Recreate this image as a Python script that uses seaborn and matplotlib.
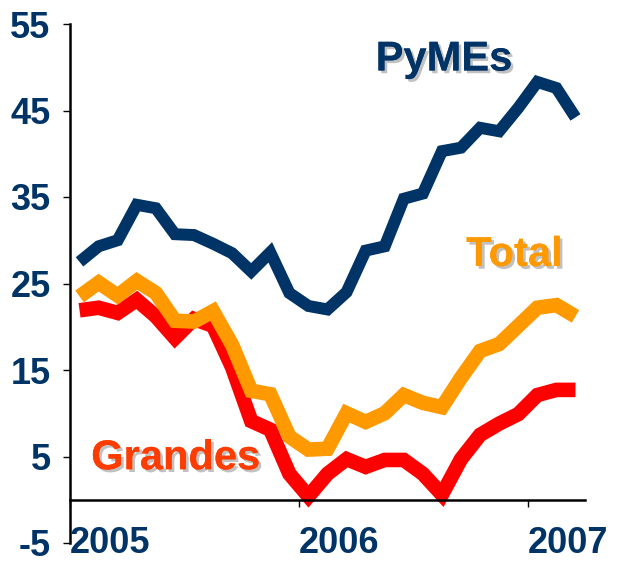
import matplotlib
matplotlib.use("Agg")
import matplotlib.pyplot as plt
import matplotlib.patheffects as pe
import seaborn as sns
import pandas as pd
import numpy as np

# Monthly series, Jan 2005 .. Mar 2007
months = [i + 0.5 for i in range(27)]
pymes = [27.5, 29.3, 30.0, 34.1, 33.7, 30.7, 30.6, 29.6, 28.5, 26.4, 28.6, 23.9, 22.4, 22.0,
         24.0, 28.8, 29.3, 34.8, 35.4, 40.3, 40.7, 43.0, 42.6, 45.3, 48.3, 47.6, 44.2]
total = [23.5, 25.1, 23.6, 25.3, 23.9, 20.7, 20.6, 21.8, 17.9, 12.6, 12.2, 7.3, 5.8, 5.9,
         10.0, 9.0, 10.0, 12.1, 11.2, 10.7, 14.1, 17.2, 18.0, 20.1, 22.2, 22.5, 21.2]
grandes = [21.9, 22.2, 21.6, 23.1, 21.2, 18.7, 20.9, 20.1, 15.3, 9.1, 8.1, 3.0, 0.4, 3.0,
           4.7, 3.8, 4.6, 4.6, 3.0, 0.6, 4.7, 7.5, 8.8, 9.9, 12.1, 12.7, 12.7]
year_ticks = [0, 12, 24]
year_labels = ["2005", "2006", "2007"]
y_ticks = [-5, 5, 15, 25, 35, 45, 55]

NAVY = "#003366"
ORANGE = "#FF9900"
RED = "#FF0000"
GRANDES_TXT = "#FF3C00"

sns.set_style("white")
plt.rcParams["font.family"] = ["Liberation Sans", "DejaVu Sans"]

fig = plt.figure(figsize=(6.2, 5.64), dpi=100)
ax = fig.add_axes([70 / 620, 21 / 564, 515 / 620, 519 / 564])

df_g = pd.DataFrame({"m": months, "v": grandes})
df_t = pd.DataFrame({"m": months, "v": total})
df_p = pd.DataFrame({"m": months, "v": pymes})

common = dict(solid_joinstyle="miter", solid_capstyle="butt")
sns.lineplot(data=df_g, x="m", y="v", ax=ax, color=RED, linewidth=10.5, **common)
sns.lineplot(data=df_t, x="m", y="v", ax=ax, color=ORANGE, linewidth=10.5, **common)
sns.lineplot(data=df_p, x="m", y="v", ax=ax, color=NAVY, linewidth=8.6, **common)

ax.set_xlim(0, 27)
ax.set_ylim(-5, 55)
ax.set_xlabel("")
ax.set_ylabel("")

for s in ["top", "right"]:
    ax.spines[s].set_visible(False)
ax.spines["left"].set_linewidth(1.8)
ax.spines["left"].set_color("black")
ax.spines["bottom"].set_position(("data", 0))
ax.spines["bottom"].set_linewidth(1.8)
ax.spines["bottom"].set_color("black")

ax.set_yticks(y_ticks)
ax.set_yticklabels([str(t) for t in y_ticks])
ax.set_xticks(year_ticks)
ax.set_xticklabels(year_labels)

ax.tick_params(axis="y", direction="out", length=5, width=1, color="black", pad=9,
               labelsize=26, labelcolor=NAVY, left=True)
ax.tick_params(axis="x", direction="out", length=5, width=1, color="black", pad=14,
               labelsize=26, labelcolor=NAVY, bottom=True)
for lab in ax.get_yticklabels() + ax.get_xticklabels():
    lab.set_fontweight("bold")
for lab in ax.get_xticklabels():
    lab.set_horizontalalignment("left")

shadow = [pe.withSimplePatchShadow(offset=(2, -2), shadow_rgbFace="#999999", alpha=0.6), pe.Normal()]
ax.text(19.6, 50.9, "PyMEs", color=NAVY, fontsize=30, fontweight="bold",
        ha="center", va="center", path_effects=shadow)
ax.text(23.3, 28.3, "Total", color=ORANGE, fontsize=30, fontweight="bold",
        ha="center", va="center", path_effects=shadow)
ax.text(5.55, 4.8, "Grandes", color=GRANDES_TXT, fontsize=30, fontweight="bold",
        ha="center", va="center", path_effects=shadow)

fig.savefig("out.png", dpi=100)
